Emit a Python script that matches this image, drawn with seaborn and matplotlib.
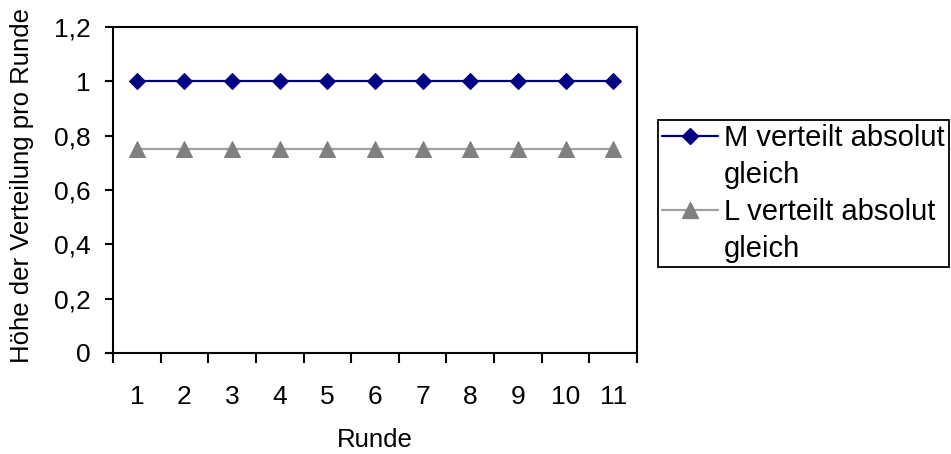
import matplotlib
matplotlib.use('Agg')
import matplotlib.pyplot as plt
from matplotlib.lines import Line2D
from matplotlib.ticker import FuncFormatter
import numpy as np
import pandas as pd
import seaborn as sns

# Daten
runden = [1, 2, 3, 4, 5, 6, 7, 8, 9, 10, 11]
m_werte = [1, 1, 1, 1, 1, 1, 1, 1, 1, 1, 1]
l_werte = [0.75, 0.75, 0.75, 0.75, 0.75, 0.75, 0.75, 0.75, 0.75, 0.75, 0.75]
y_ticks = [0, 0.2, 0.4, 0.6, 0.8, 1.0, 1.2]
m_label = 'M verteilt absolut'
l_label = 'L verteilt absolut'

sns.set_style('white')
plt.rcParams['font.family'] = ['Liberation Sans', 'DejaVu Sans']
plt.rcParams['text.color'] = 'black'
plt.rcParams['axes.labelcolor'] = 'black'
plt.rcParams['xtick.color'] = 'black'
plt.rcParams['ytick.color'] = 'black'

df = pd.DataFrame({'Runde': runden, 'M': m_werte, 'L': l_werte})

W, H = 951, 454
fig = plt.figure(figsize=(W / 100, H / 100), dpi=100)
ax = fig.add_axes([113 / W, 1 - 353 / H, (637 - 113) / W, (353 - 27) / H])

sns.lineplot(data=df, x='Runde', y='M', ax=ax, color='#000080', lw=1.6,
             marker='D', markersize=8, markeredgecolor='#000080', markerfacecolor='#000080')
sns.lineplot(data=df, x='Runde', y='L', ax=ax, color='#a0a0a0', lw=1.6,
             marker='^', markersize=11.5, markeredgecolor='#808080', markerfacecolor='#808080')

ax.set_xlim(0.5, 11.5)
ax.set_ylim(0, 1.2)

# x-Achse: Striche zwischen den Kategorien, Beschriftung mittig
ax.set_xticks(np.arange(0.5, 12, 1))
ax.set_xticklabels([])
ax.set_xticks(runden, minor=True)
ax.set_xticklabels([str(r) for r in runden], minor=True)
ax.tick_params(axis='x', which='major', direction='out', length=7, width=1.5, color='black', bottom=True)
ax.tick_params(axis='x', which='minor', length=0, pad=23, labelsize=19, labelcolor='black')

ax.set_yticks(y_ticks)
ax.yaxis.set_major_formatter(FuncFormatter(lambda v, p: ('%g' % round(v, 1)).replace('.', ',')))
ax.tick_params(axis='y', direction='out', length=6, width=1.5, color='black', left=True, pad=10,
               labelsize=19, labelcolor='black')

for s in ax.spines.values():
    s.set_color('black')
    s.set_linewidth(1.5)
ax.grid(False)

ax.set_xlabel('Runde', fontsize=18.5, color='black')
ax.xaxis.label.set_va('center')
ax.xaxis.set_label_coords(0.5, -(440 - 353) / 326)
ax.set_ylabel('Höhe der Verteilung pro Runde', fontsize=18.5, color='black')
ax.yaxis.label.set_va('center')
ax.yaxis.set_label_coords(-(113 - 22) / 524, 0.515)

# Legende mit zweizeiligen Einträgen
h_m = Line2D([], [], color='#000080', lw=1.6, marker='D', markersize=8,
             markerfacecolor='#000080', markeredgecolor='#000080')
h_l = Line2D([], [], color='#a0a0a0', lw=1.6, marker='^', markersize=11.5,
             markerfacecolor='#808080', markeredgecolor='#808080')
leer = Line2D([], [], linestyle='none')
leg = ax.legend([h_m, leer, h_l, leer], [m_label, 'gleich', l_label, 'gleich'],
                loc='upper left', bbox_to_anchor=(658 / W, 1 - 120 / H),
                bbox_transform=fig.transFigure, borderaxespad=0,
                fontsize=21, frameon=True, fancybox=False, framealpha=1,
                edgecolor='black', handlelength=1.9, handletextpad=0.2,
                borderpad=0.15, labelspacing=0.3)
leg.get_frame().set_linewidth(1.3)
for t in leg.get_texts():
    t.set_color('black')

fig.savefig('out.png', dpi=100)
